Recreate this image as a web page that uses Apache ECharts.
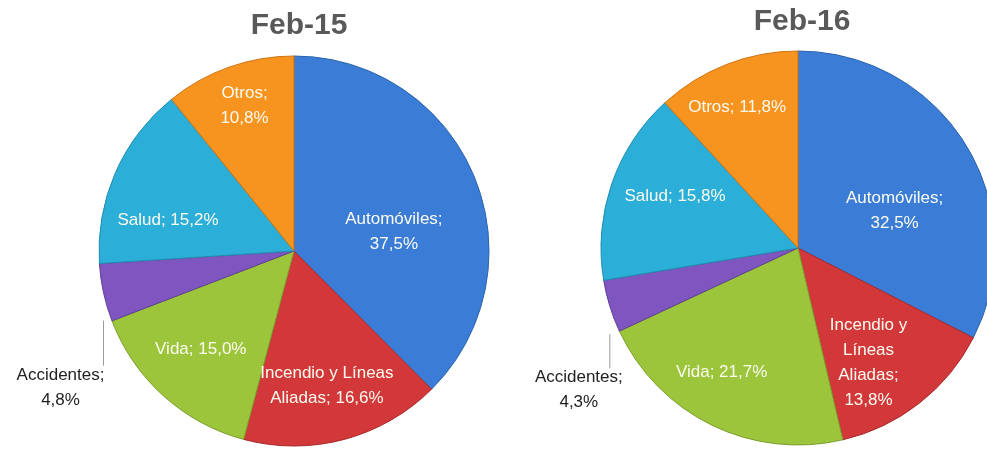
<!DOCTYPE html>
<html>
<head>
<meta charset="utf-8">
<script src="https://cdn.jsdelivr.net/npm/echarts@6/dist/echarts.min.js"></script>
<style>
html, body { margin: 0; padding: 0; background: #fff; }
#main { width: 987px; height: 450px; }
</style>
</head>
<body>
<div id="main"></div>
<script>
// categorias (sentido horario desde arriba)
var categories = ['Automóviles', 'Incendio y Líneas Aliadas', 'Vida', 'Accidentes', 'Salud', 'Otros'];
var periods = ['Feb-15', 'Feb-16'];
var feb15 = [37.5, 16.6, 15.0, 4.8, 15.2, 10.8];
var feb16 = [32.5, 13.8, 21.7, 4.3, 15.8, 11.8];

var colors = ['#3b7dd6', '#d2383a', '#9cc53c', '#7f56bf', '#2bafd8', '#f7941f'];
var borders = ['#2c63ad', '#a72a2c', '#7a9e2c', '#5f3f96', '#1f8db0', '#cf7412'];

// ajustes de etiquetas (px) por serie
var offsets = [
    [[7, 19], [7, 38], [-26, 24], [0, 0], [-34, 10], [-16, -50]],
    [[10, 16], [8, 35], [-32, 33], [0, 0], [-27, -19], [-24, -46]]
];
var labelText = [
    ['Automóviles;\n37,5%', 'Incendio y Líneas\nAliadas; 16,6%', 'Vida; 15,0%', 'Accidentes;\n4,8%', 'Salud; 15,2%', 'Otros;\n10,8%'],
    ['Automóviles;\n32,5%', 'Incendio y\nLíneas\nAliadas;\n13,8%', 'Vida; 21,7%', 'Accidentes;\n4,3%', 'Salud; 15,8%', 'Otros; 11,8%']
];
var accShift = [[-43, 95], [-31, 84]];

var font = 'Liberation Sans';

function buildData(values, s) {
    return values.map(function (v, i) {
        var item = {
            name: categories[i],
            value: v,
            itemStyle: { color: colors[i], borderColor: borders[i], borderWidth: 1 },
            label: {
                show: true,
                position: 'inside',
                formatter: labelText[s][i],
                color: '#fbfbf0',
                fontFamily: font,
                fontSize: 17,
                lineHeight: 25,
                offset: offsets[s][i]
            },
            labelLine: { show: false }
        };
        if (i === 3) {
            item.label = {
                show: true,
                position: 'outside',
                formatter: labelText[s][i],
                color: '#222',
                fontFamily: font,
                fontSize: 17,
                lineHeight: 25,
                align: 'center'
            };
            item.labelLine = { show: true, length: 10, length2: 0, lineStyle: { color: '#9a9a9a', width: 1 } };
        }
        return item;
    });
}

function makeSeries(values, s, center, radius) {
    return {
        type: 'pie',
        name: periods[s],
        center: center,
        radius: radius,
        startAngle: 90,
        clockwise: true,
        animation: false,
        avoidLabelOverlap: false,
        data: buildData(values, s),
        labelLayout: function (p) {
            if (p.dataIndex !== 3) return {};
            var a = p.labelLinePoints[0];
            var lx = a[0], ly = a[1] + accShift[s][1] - 22;
            return {
                x: a[0] + accShift[s][0],
                y: a[1] + accShift[s][1],
                align: 'center',
                verticalAlign: 'middle',
                labelLinePoints: [[a[0], a[1] + 28], [lx, ly], [lx, ly]]
            };
        }
    };
}

var option = {
    backgroundColor: '#ffffff',
    title: [
        { text: periods[0], left: 294, top: 6, textAlign: 'center',
          textStyle: { fontFamily: font, fontSize: 30, fontWeight: 'bold', color: '#595959' } },
        { text: periods[1], left: 797, top: 2, textAlign: 'center',
          textStyle: { fontFamily: font, fontSize: 30, fontWeight: 'bold', color: '#595959' } }
    ],
    series: [
        makeSeries(feb15, 0, [294, 251], 195),
        makeSeries(feb16, 1, [798, 248], 197)
    ]
};

var myChart = echarts.init(document.getElementById('main'));
myChart.setOption(option);
</script>
</body>
</html>
